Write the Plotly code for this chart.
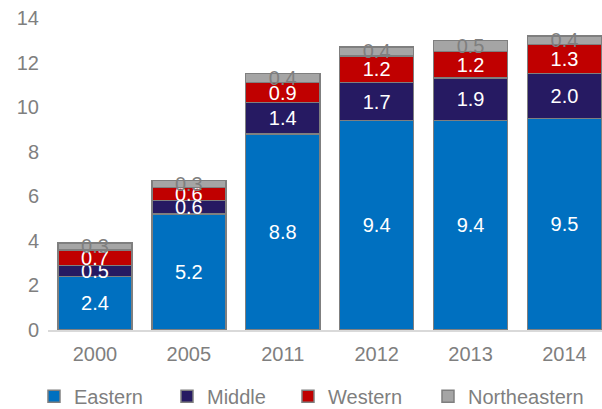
import plotly.graph_objects as go

years = ["2000", "2005", "2011", "2012", "2013", "2014"]
eastern = [2.4, 5.2, 8.8, 9.4, 9.4, 9.5]
middle = [0.5, 0.6, 1.4, 1.7, 1.9, 2.0]
western = [0.7, 0.6, 0.9, 1.2, 1.2, 1.3]
northeastern = [0.3, 0.3, 0.4, 0.4, 0.5, 0.4]
y_ticks = [0, 2, 4, 6, 8, 10, 12, 14]

series = [
    ("Eastern", eastern, "#0070C0", "white"),
    ("Middle", middle, "#261A62", "white"),
    ("Western", western, "#C00000", "white"),
    ("Northeastern", northeastern, "#A5A5A5", "#7F7F7F"),
]

FONT = "Liberation Sans, Arial, sans-serif"
GREY = "#7F7F7F"
legend_ids = ["legend", "legend2", "legend3", "legend4"]
legend_x = [-0.0253, 0.2148, 0.4332, 0.6859]

fig = go.Figure()
for (name, vals, color, tcolor), lid in zip(series, legend_ids):
    fig.add_trace(go.Bar(
        x=years, y=vals, name=name, legend=lid,
        marker=dict(color=color, line=dict(color="#7F7F7F", width=1.5)),
        text=[f"{v:.1f}" for v in vals],
        textposition="inside", insidetextanchor="middle",
        constraintext="none",
        textfont=dict(color=tcolor, size=20, family=FONT),
        cliponaxis=False,
    ))

legend_common = dict(orientation="h", xanchor="left", y=-0.15, yanchor="top",
                     font=dict(size=20, color=GREY), bgcolor="rgba(0,0,0,0)")

fig.update_layout(
    barmode="stack", bargap=0.21,
    width=602, height=409,
    margin=dict(l=48, r=0, t=18, b=79, autoexpand=False),
    plot_bgcolor="white", paper_bgcolor="white",
    font=dict(family=FONT, size=20, color=GREY),
    showlegend=True,
    xaxis=dict(type="category", range=[-0.5, 5.4], showline=True, linecolor="#D9D9D9",
               linewidth=1.5, ticks="", showgrid=False, ticklabelstandoff=5,
               tickfont=dict(size=20, color=GREY)),
    yaxis=dict(range=[0, 14], tickvals=y_ticks, showgrid=False, zeroline=False,
               showline=False, ticks="", ticklabelstandoff=8,
               tickfont=dict(size=20, color=GREY)),
)
for lid, lx in zip(legend_ids, legend_x):
    fig.update_layout({lid: dict(legend_common, x=lx)})

fig.write_html("out.html", config={"displayModeBar": False},
               post_script="document.body.style.margin='0';document.body.style.overflow='hidden';")
